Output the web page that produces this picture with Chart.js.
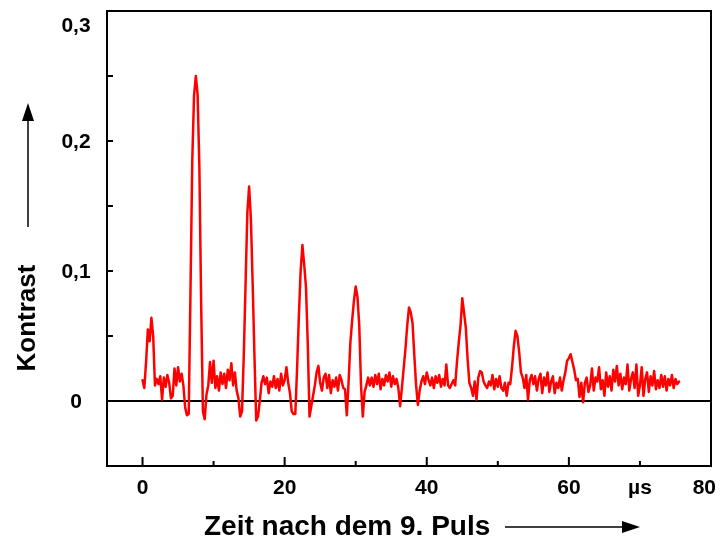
<!DOCTYPE html>
<html>
<head>
<meta charset="utf-8">
<script src="https://cdn.jsdelivr.net/npm/chart.js@4.4.1/dist/chart.umd.min.js"></script>
<style>
  html, body { margin: 0; padding: 0; background: #fff; }
  canvas { display: block; }
</style>
</head>
<body>
<canvas id="chart" width="721" height="543"></canvas>
<script>
// Contrast signal after the 9th pulse, sampled every 0.25 µs starting at 0 µs
const sampleStart = 0;
const sampleStep = 0.25;
const kontrast = [
  0.016, 0.010, 0.030, 0.055, 0.046, 0.064, 0.050, 0.012,
  0.017, 0.013, 0.019, 0.001, 0.018, 0.011, 0.020, 0.014,
  0.002, 0.004, 0.025, 0.012, 0.026, 0.015, 0.021, 0.012,
  -0.005, -0.011, -0.010, 0.085, 0.185, 0.235, 0.250, 0.236,
  0.180, 0.075, -0.008, -0.014, 0.005, 0.012, 0.030, 0.014,
  0.031, 0.010, 0.019, 0.008, 0.022, 0.013, 0.021, 0.010,
  0.024, 0.016, 0.029, 0.012, 0.022, 0.008, 0.002, -0.012,
  -0.008, 0.035, 0.090, 0.145, 0.165, 0.140, 0.090, 0.035,
  -0.015, -0.012, 0.000, 0.014, 0.019, 0.013, 0.018, 0.006,
  0.015, 0.011, 0.019, 0.010, 0.017, 0.008, 0.021, 0.012,
  0.016, 0.026, 0.014, 0.006, -0.008, -0.010, -0.010, 0.025,
  0.065, 0.100, 0.120, 0.105, 0.088, 0.045, -0.012, -0.004,
  0.004, 0.012, 0.022, 0.027, 0.014, 0.008, 0.018, 0.021,
  0.010, 0.020, 0.006, 0.016, 0.011, 0.018, 0.008, 0.020,
  0.016, 0.010, 0.009, -0.011, 0.015, 0.045, 0.062, 0.077,
  0.088, 0.080, 0.058, 0.012, -0.012, 0.007, 0.012, 0.018,
  0.012, 0.018, 0.011, 0.020, 0.013, 0.021, 0.009, 0.017,
  0.012, 0.020, 0.015, 0.022, 0.011, 0.019, 0.013, 0.017,
  0.010, -0.004, 0.010, 0.025, 0.040, 0.058, 0.072, 0.068,
  0.060, 0.035, 0.012, -0.003, 0.008, 0.015, 0.019, 0.013,
  0.022, 0.016, 0.012, 0.018, 0.010, 0.019, 0.014, 0.020,
  0.011, 0.017, 0.012, 0.028, 0.012, 0.010, 0.013, 0.016,
  0.012, 0.030, 0.045, 0.058, 0.079, 0.068, 0.056, 0.032,
  0.014, 0.010, 0.004, 0.015, 0.001, 0.018, 0.023, 0.022,
  0.015, 0.012, 0.010, 0.015, 0.012, 0.020, 0.009, 0.017,
  0.011, 0.019, 0.010, 0.008, 0.014, 0.004, 0.014, 0.013,
  0.026, 0.042, 0.054, 0.050, 0.038, 0.022, 0.018, 0.010,
  0.020, 0.001, 0.016, 0.020, 0.013, 0.019, 0.008, 0.017,
  0.021, 0.006, 0.018, 0.012, 0.022, 0.007, 0.015, 0.019,
  0.006, 0.014, 0.010, 0.018, 0.008, 0.016, 0.022, 0.031,
  0.033, 0.036, 0.030, 0.024, 0.016, 0.017, 0.003, 0.014,
  -0.001, 0.014, 0.018, 0.007, 0.012, 0.025, 0.008, 0.018,
  0.015, 0.026, 0.009, 0.016, 0.004, 0.022, 0.011, 0.019,
  0.008, 0.024, 0.015, 0.027, 0.012, 0.021, 0.009, 0.018,
  0.013, 0.028, 0.008, 0.017, 0.022, 0.010, 0.028, 0.004,
  0.012, 0.026, 0.004, 0.017, 0.022, 0.007, 0.019, 0.012,
  0.023, 0.009, 0.016, 0.010, 0.020, 0.011, 0.019, 0.008,
  0.017, 0.012, 0.020, 0.010, 0.017, 0.013, 0.015
];

// Axis ranges, ticks and labels
const xRange = [-5, 80];
const yRange = [-0.05, 0.3];
const xMajorTicks = [0, 20, 40, 60, 80];
const xMinorTicks = [10, 30, 50, 70];
const xLabelValues = [0, 20, 40, 60, 70, 80];
const xLabelTexts = ['0', '20', '40', '60', 'µs', '80'];
const yTicks = [0, 0.05, 0.1, 0.15, 0.2, 0.25];
const yLabelValues = [0, 0.1, 0.2, 0.3];
const yLabelTexts = ['0', '0,1', '0,2', '0,3'];
const xTitle = 'Zeit nach dem 9. Puls';
const yTitle = 'Kontrast';

const points = kontrast.map((v, i) => ({ x: sampleStart + i * sampleStep, y: v }));

const FONT = '"Liberation Sans", Arial, Helvetica, sans-serif';

function arrow(ctx, x1, y1, x2, y2, head, half) {
  const ang = Math.atan2(y2 - y1, x2 - x1);
  const bx = x2 - head * Math.cos(ang), by = y2 - head * Math.sin(ang);
  ctx.beginPath();
  ctx.moveTo(x1, y1);
  ctx.lineTo(bx, by);
  ctx.stroke();
  ctx.beginPath();
  ctx.moveTo(x2, y2);
  ctx.lineTo(bx + half * Math.sin(ang), by - half * Math.cos(ang));
  ctx.lineTo(bx - half * Math.sin(ang), by + half * Math.cos(ang));
  ctx.closePath();
  ctx.fill();
}

const framePlugin = {
  id: 'frame',
  beforeDatasetsDraw(chart) {
    const { ctx, chartArea: a, scales: { y } } = chart;
    const y0 = y.getPixelForValue(0);
    ctx.save();
    ctx.strokeStyle = '#000';
    ctx.lineWidth = 2;
    ctx.beginPath();
    ctx.moveTo(a.left, y0);
    ctx.lineTo(a.right, y0);
    ctx.stroke();
    ctx.restore();
  },
  afterDraw(chart) {
    const { ctx, chartArea: a, scales: { x, y } } = chart;
    ctx.save();
    ctx.strokeStyle = '#000';
    ctx.fillStyle = '#000';
    ctx.lineWidth = 2;
    ctx.strokeRect(a.left, a.top, a.right - a.left, a.bottom - a.top);

    // inward tick marks
    ctx.beginPath();
    xMajorTicks.forEach(v => { const px = x.getPixelForValue(v); ctx.moveTo(px, a.bottom); ctx.lineTo(px, a.bottom - 9); });
    xMinorTicks.forEach(v => { const px = x.getPixelForValue(v); ctx.moveTo(px, a.bottom); ctx.lineTo(px, a.bottom - 5); });
    yTicks.forEach(v => { const py = y.getPixelForValue(v); ctx.moveTo(a.left, py); ctx.lineTo(a.left + 6, py); });
    ctx.stroke();

    // tick labels
    ctx.font = 'bold 21px ' + FONT;
    ctx.textAlign = 'center';
    ctx.textBaseline = 'middle';
    xLabelValues.forEach((v, i) => {
      const w = ctx.measureText(xLabelTexts[i]).width;
      const px = Math.min(x.getPixelForValue(v), chart.width - w / 2 - 5);
      ctx.fillText(xLabelTexts[i], px, a.bottom + 22);
    });
    yLabelValues.forEach((v, i) => {
      const py = Math.max(y.getPixelForValue(v), a.top + 14);
      ctx.fillText(yLabelTexts[i], 76, py + 1);
    });

    // axis titles with arrows
    ctx.font = 'bold 28px ' + FONT;
    ctx.textAlign = 'left';
    ctx.fillText(xTitle, 204, 527);
    ctx.lineWidth = 1.5;
    arrow(ctx, 505, 527, 640, 527, 18, 6);

    ctx.font = 'bold 26px ' + FONT;
    ctx.save();
    ctx.translate(28, 318);
    ctx.rotate(-Math.PI / 2);
    ctx.textAlign = 'center';
    ctx.fillText(yTitle, 0, 0);
    ctx.restore();
    arrow(ctx, 28, 227, 28, 103, 18, 6);
    ctx.restore();
  }
};

new Chart(document.getElementById('chart'), {
  type: 'line',
  data: {
    datasets: [{
      data: points,
      borderColor: '#ff0000',
      borderWidth: 2.5,
      borderJoinStyle: 'round',
      borderCapStyle: 'round',
      pointRadius: 0,
      tension: 0,
      fill: false
    }]
  },
  options: {
    responsive: false,
    animation: false,
    layout: { padding: { left: 107, top: 11, right: 10, bottom: 77 } },
    plugins: { legend: { display: false }, tooltip: { enabled: false } },
    scales: {
      x: { type: 'linear', min: xRange[0], max: xRange[1], display: false },
      y: { type: 'linear', min: yRange[0], max: yRange[1], display: false }
    }
  },
  plugins: [framePlugin]
});
</script>
</body>
</html>
